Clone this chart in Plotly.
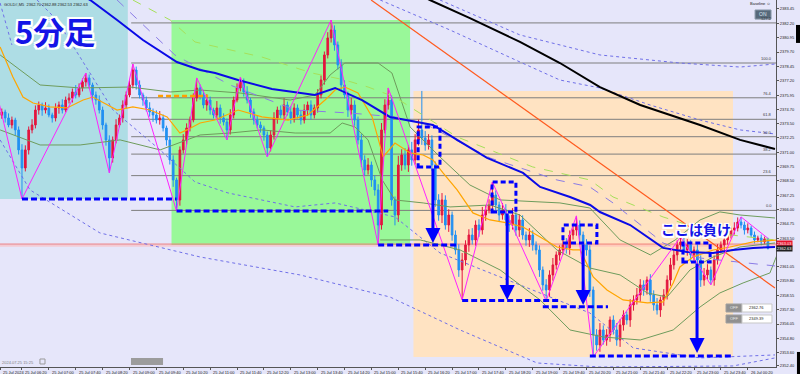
import plotly.graph_objects as go

# ---------------- data ----------------
bar_index = list(range(229))          # 5-minute bars, 25 Jul 05:50 -> 26 Jul 00:50
first_open = 2374.20
closes = [
    2374.49, 2373.97, 2373.36, 2373.79, 2372.93, 2371.19, 2369.62, 2371.19, 2372.93, 2373.36,
    2374.66, 2375.10, 2374.66, 2374.84, 2374.23, 2373.97, 2374.84, 2375.10, 2374.66, 2375.53,
    2375.71, 2376.23, 2375.97, 2376.58, 2377.10, 2377.45, 2376.84, 2375.97, 2375.53, 2374.66,
    2373.36, 2372.06, 2370.49, 2372.06, 2373.36, 2373.97, 2375.10, 2375.97, 2376.84, 2378.14,
    2376.84, 2375.97, 2375.53, 2374.84, 2374.49, 2374.23, 2373.79, 2373.97, 2373.10, 2372.06,
    2370.32, 2368.58, 2366.84, 2371.19, 2372.06, 2373.10, 2373.79, 2375.71, 2376.58, 2375.97,
    2375.10, 2375.53, 2374.66, 2374.23, 2374.84, 2373.97, 2373.62, 2372.93, 2374.23, 2375.53,
    2376.58, 2377.10, 2376.23, 2375.53, 2374.49, 2373.79, 2373.36, 2373.10, 2372.49, 2371.36,
    2372.49, 2373.97, 2374.66, 2374.23, 2375.10, 2374.49, 2373.97, 2374.84, 2374.23, 2373.79,
    2374.66, 2375.10, 2374.23, 2374.84, 2375.97, 2377.27, 2379.45, 2380.93, 2381.62, 2380.32,
    2378.58, 2376.84, 2375.97, 2374.66, 2375.10, 2373.79, 2372.06, 2370.32, 2369.45, 2369.88,
    2368.58, 2367.71, 2364.66, 2372.93, 2375.10, 2375.53, 2366.84, 2365.53, 2369.88, 2370.75,
    2369.88, 2371.19, 2370.32, 2372.06, 2372.93, 2372.23, 2371.62, 2372.06, 2369.88, 2366.84,
    2365.53, 2366.84, 2364.66, 2365.53, 2363.79, 2362.49, 2360.75, 2361.62, 2362.93, 2363.79,
    2363.36, 2364.66, 2364.23, 2365.53, 2365.97, 2366.40, 2367.27, 2366.40, 2365.53, 2365.97,
    2365.10, 2364.66, 2365.53, 2364.23, 2365.10, 2363.79, 2363.36, 2363.79, 2362.93, 2362.49,
    2360.75, 2359.45, 2359.01, 2360.32, 2361.19, 2362.06, 2362.49, 2362.93, 2362.67, 2363.79,
    2364.23, 2364.66, 2363.79, 2362.93, 2362.49, 2359.01, 2355.10, 2354.23, 2355.53, 2354.66,
    2355.10, 2356.40, 2355.53, 2354.66, 2355.97, 2356.84, 2356.40, 2357.71, 2358.14, 2358.58,
    2359.45, 2359.01, 2359.88, 2358.58, 2357.71, 2357.27, 2358.14, 2358.58, 2359.88, 2361.19,
    2362.06, 2362.93, 2363.19, 2362.49, 2362.93, 2362.06, 2362.49, 2361.62, 2359.88, 2360.32,
    2360.75, 2359.88, 2361.62, 2362.49, 2362.93, 2363.36, 2363.79, 2364.23, 2364.40, 2364.92,
    2364.66, 2364.23, 2364.40, 2363.79, 2363.36, 2363.53, 2363.19, 2363.45, 2362.63,
]
wick_hi = [
    0.3, 0.2, 0.4, 0.3, 0.2, 0.3, 0.5, 0.4, 0.3, 0.5,
    0.4, 0.3, 0.2, 0.5, 0.3, 0.2, 0.4, 0.3, 0.5, 0.3,
    0.4, 0.3, 0.6, 0.4, 0.3, 0.43, 0.3, 0.2, 0.3, 0.4,
    0.3, 0.2, 0.4, 0.3, 0.5, 0.3, 0.4, 0.3, 0.4, 0.52,
    0.3, 0.4, 0.2, 0.3, 0.5, 0.3, 0.4, 0.6, 0.3, 0.2,
    0.3, 0.4, 0.2, 0.3, 0.5, 0.4, 0.3, 0.4, 0.87, 0.3,
    0.4, 0.5, 0.3, 0.2, 0.6, 0.3, 0.4, 0.3, 0.5, 0.3,
    0.4, 0.43, 0.3, 0.5, 0.2, 0.3, 0.4, 0.3, 0.2, 0.3,
    0.4, 0.5, 0.3, 0.4, 0.6, 0.3, 0.5, 0.4, 0.3, 0.4,
    0.5, 0.3, 0.4, 0.3, 0.5, 0.4, 0.3, 0.5, 0.87, 0.4,
    0.3, 0.5, 0.4, 0.3, 0.6, 0.4, 0.3, 0.5, 0.4, 0.6,
    0.3, 0.4, 0.5, 0.6, 0.5, 1.05, 0.4, 0.3, 0.8, 0.5,
    0.6, 0.4, 0.7, 0.5, 0.9, 3.39, 0.6, 0.5, 0.4, 0.3,
    0.5, 0.6, 0.4, 0.5, 0.3, 0.4, 0.5, 0.6, 0.4, 0.5,
    0.6, 0.4, 0.5, 0.7, 0.4, 0.5, 1.13, 0.4, 0.3, 0.6,
    0.5, 0.4, 0.6, 0.3, 0.5, 0.4, 0.3, 0.6, 0.4, 0.3,
    0.4, 0.3, 0.5, 0.4, 0.6, 0.3, 0.4, 0.5, 0.6, 0.4,
    0.5, 0.79, 0.4, 0.3, 0.5, 0.4, 0.3, 0.5, 0.6, 0.4,
    0.5, 0.3, 0.4, 0.6, 0.5, 0.4, 0.3, 0.5, 0.4, 0.6,
    0.5, 0.4, 0.3, 0.5, 0.4, 0.6, 0.3, 0.5, 0.4, 0.6,
    0.5, 0.4, 0.43, 0.6, 0.5, 0.4, 0.3, 0.5, 0.4, 0.6,
    0.5, 0.3, 0.4, 0.5, 0.3, 0.4, 0.6, 0.3, 0.5, 0.4,
    0.44, 0.3, 0.4, 0.2, 0.3, 0.2, 0.3, 0.2, 0.1,
]
wick_lo = [
    0.3, 0.4, 0.2, 0.3, 0.5, 0.4, 2.69, 0.3, 0.4, 0.3,
    0.3, 0.4, 0.5, 0.3, 0.2, 0.4, 0.3, 0.5, 0.3, 0.2,
    0.3, 0.4, 0.3, 0.2, 0.3, 0.4, 0.3, 0.5, 0.4, 0.3,
    0.4, 0.5, 1.30, 0.4, 0.3, 0.2, 0.4, 0.3, 0.2, 0.3,
    0.4, 0.3, 0.5, 0.3, 0.4, 0.6, 0.3, 0.4, 0.3, 0.5,
    0.4, 0.6, 0.96, 0.5, 0.3, 0.4, 0.3, 0.2, 0.3, 0.4,
    0.3, 0.5, 0.4, 0.3, 0.4, 0.5, 0.3, 0.87, 0.4, 0.3,
    0.2, 0.3, 0.4, 0.3, 0.5, 0.4, 0.3, 0.4, 0.5, 0.78,
    0.3, 0.4, 0.5, 0.3, 0.4, 0.3, 0.5, 0.4, 0.3, 0.4,
    0.3, 0.5, 0.4, 0.3, 0.4, 0.3, 0.4, 0.3, 0.4, 0.5,
    0.4, 0.5, 0.3, 0.6, 0.4, 0.5, 0.4, 0.6, 0.5, 0.4,
    0.6, 0.5, 1.73, 0.4, 0.3, 0.4, 0.5, 0.9, 0.6, 0.5,
    0.4, 0.6, 0.5, 0.4, 0.5, 0.6, 0.5, 0.4, 0.5, 0.6,
    0.5, 0.7, 0.4, 0.6, 0.5, 0.4, 0.6, 2.61, 0.5, 0.6,
    0.4, 0.5, 0.6, 0.4, 0.5, 0.3, 0.4, 0.5, 0.6, 0.4,
    0.5, 0.6, 0.4, 0.5, 0.6, 0.4, 0.5, 0.6, 0.5, 0.4,
    0.6, 0.5, 0.95, 0.6, 0.5, 0.4, 0.5, 0.4, 0.5, 0.6,
    0.4, 0.5, 0.6, 0.4, 0.5, 0.6, 1.91, 0.5, 0.6, 0.4,
    0.5, 0.6, 0.4, 0.5, 0.6, 0.5, 0.4, 0.6, 0.5, 0.4,
    0.6, 0.5, 0.4, 0.6, 0.5, 0.4, 0.6, 0.5, 0.4, 0.5,
    0.4, 0.5, 0.6, 0.4, 0.5, 0.6, 0.5, 0.4, 0.6, 0.5,
    0.4, 0.43, 0.5, 0.4, 0.3, 0.5, 0.4, 0.3, 0.4, 0.3,
    0.3, 0.4, 0.3, 0.2, 0.3, 0.2, 0.3, 0.2, 0.1,
]

time_tick_idx = [-0.5, 6, 14, 22, 30, 38, 46, 54, 62, 70, 78, 86, 94, 102, 110,
                 118, 126, 134, 142, 150, 158, 166, 174, 182, 190, 198, 206, 214, 222]
time_tick_text = ["25 Jul 2024", "25 Jul 06:20", "25 Jul 07:00", "25 Jul 07:40", "25 Jul 08:20",
                  "25 Jul 09:00", "25 Jul 09:40", "25 Jul 10:20", "25 Jul 11:00", "25 Jul 11:40",
                  "25 Jul 12:20", "25 Jul 13:00", "25 Jul 13:40", "25 Jul 14:20", "25 Jul 15:00",
                  "25 Jul 15:40", "25 Jul 16:20", "25 Jul 17:00", "25 Jul 17:40", "25 Jul 18:20",
                  "25 Jul 19:00", "25 Jul 19:40", "25 Jul 20:20", "25 Jul 21:00", "25 Jul 21:40",
                  "25 Jul 22:20", "25 Jul 23:00", "25 Jul 23:40", "26 Jul 00:20"]
price_ticks = [2383.45, 2382.20, 2380.95, 2379.70, 2378.45, 2377.20, 2375.95, 2374.70, 2373.50,
               2372.25, 2371.00, 2369.75, 2368.50, 2367.25, 2366.00, 2364.75, 2363.50, 2361.05,
               2359.80, 2358.55, 2357.30, 2356.05, 2354.80, 2353.60, 2352.40]

# indicators (bar index, price)
black_ma_x = [118.5, 127.4, 139.3, 154.2, 166.1, 178, 190, 207.8, 219.7, 230.1]
black_ma_y = [2385.5, 2384.23, 2382.66, 2380.58, 2378.75, 2376.66, 2375.10, 2373.36, 2372.06, 2371.27]
blue_ma_x = [24, 26.3, 34.3, 42, 52.1, 59, 63.5, 70.3, 80.4, 93.2, 99.2, 107.2, 115.5, 128.3, 135.5,
             144.4, 155.1, 160.2, 169.1, 175.1, 178, 187, 196.8, 204, 211.7, 217.6, 223.6, 230.1]
blue_ma_y = [2384.6, 2384.23, 2382.49, 2380.75, 2378.84, 2378.14, 2377.88, 2377.27, 2376.49, 2375.97,
             2376.58, 2375.53, 2374.06, 2373.36, 2372.06, 2370.49, 2369.19, 2367.97, 2367.10, 2366.40,
             2365.79, 2364.66, 2362.67, 2362.32, 2362.23, 2362.49, 2362.67, 2362.75]
yg_x = [39, 50.1, 57.5, 77.4, 92.3, 102.1, 109, 117, 121.5, 135.5, 145.3, 158, 175, 181.9, 196.8, 211.7, 230.1]
yg_y = [2384.23, 2382.49, 2380.58, 2379.27, 2377.88, 2377.27, 2376.66, 2375.79, 2374.93, 2372.32,
        2371.19, 2369.71, 2368.58, 2367.10, 2365.36, 2363.97, 2363.36]
pd_x = [34.3, 51.5, 67.9, 87.3, 103.6, 117, 125.4, 145.3, 165.2, 175, 181.9, 196.8, 207.8, 230.1]
pd_y = [2384.23, 2379.45, 2376.84, 2374.66, 2374.40, 2374.06, 2373.53, 2370.49, 2368.58, 2367.97,
        2366.58, 2363.10, 2361.79, 2361.10]
up1_x = [130.4, 154.2, 178, 201.8, 219.7, 230.1]
up1_y = [2384.23, 2381.19, 2379.45, 2378.75, 2378.40, 2378.66]
up2_x = [112.6, 133.4, 154.2, 166.1, 178, 192.9, 207.8, 219.7, 230.1]
up2_y = [2384.23, 2381.62, 2378.84, 2377.27, 2376.58, 2375.10, 2373.79, 2372.93, 2372.58]
up3_x = [-0.5, 0.95, 3.0]
up3_y = [2383.97, 2382.49, 2380.32]
lo1_x = [-0.5, 8.4, 29.2, 59, 88.7, 115.5, 136.4, 159.3, 178, 217.6, 230.1]
lo1_y = [2372.06, 2367.71, 2363.97, 2361.88, 2360.32, 2358.40, 2355.53, 2352.66, 2352.31, 2352.40, 2353.10]
lo2_x = [10.5, 16.4, 33.1, 47.1, 57.5, 67.3, 87.3, 99.2, 117, 130.4, 145.3, 160.2, 175, 187.9, 207.8, 230.1]
lo2_y = [2384.23, 2382.49, 2374.66, 2371.19, 2368.40, 2367.45, 2366.23, 2366.58, 2365.36, 2362.23,
         2360.49, 2358.75, 2357.01, 2353.97, 2353.10, 2353.36]
gup_x = [-0.5, 11.4, 23.3, 38.2, 50.1, 59, 70.9, 85.8, 93.2, 97.7, 102.1, 112, 116.1, 121.5, 130.4,
         139.3, 148.3, 166.1, 175, 184, 193, 200.4, 207.8, 213.7, 219.7, 230.1]
gup_y = [2379.45, 2376.84, 2376.58, 2376.66, 2376.23, 2376.40, 2376.14, 2375.53, 2375.97, 2377.71,
         2378.75, 2378.75, 2377.88, 2373.19, 2370.58, 2368.14, 2366.84, 2366.58, 2366.14, 2363.36,
         2362.06, 2363.36, 2365.10, 2365.80, 2365.53, 2365.27]
gmid_x = [-0.5, 11.4, 23.3, 35.2, 47.1, 59, 67.9, 77.4, 87.3, 97.7, 101.3, 105.1, 109, 113.2, 117,
          125.4, 133.4, 145.3, 154.2, 165.2, 175, 184, 192.1, 198, 204.8, 211.7, 219.7, 230.1]
gmid_y = [2372.93, 2371.62, 2371.62, 2372.06, 2371.19, 2372.49, 2372.66, 2372.93, 2372.66, 2372.66,
          2373.53, 2373.19, 2372.06, 2368.58, 2366.84, 2366.58, 2366.23, 2366.40, 2365.53, 2362.49,
          2360.92, 2360.32, 2358.75, 2358.40, 2360.75, 2361.88, 2362.75, 2363.10]
glow_x = [112.6, 124.5, 136.4, 148.3, 160.2, 169.1, 179, 190, 199.8, 207.8, 213.7, 220.6, 228.6, 230.7]
glow_y = [2363.36, 2363.36, 2362.49, 2360.75, 2358.14, 2355.53, 2354.92, 2354.66, 2355.53, 2357.53,
          2358.75, 2359.62, 2360.49, 2362.06]
orange_x = [-0.5, 3.3, 6.3, 9.3, 14.3, 19.4, 24.2, 27.1, 34.3, 39, 44.1, 49.2, 53, 55.1, 59, 63.4,
            70.3, 77.4, 85.2, 91.1, 96.2, 99.2, 102.1, 106, 110.2, 113.5, 117, 121.5, 125.4, 128.3,
            131.3, 135.5, 140.2, 145.3, 150.4, 155.1, 160.2, 165.2, 170, 172.1, 176, 180.1, 184.9,
            192.1, 196.8, 199.8, 201.8, 205.7, 211.7, 216.7, 223.6, 230.7]
orange_y = [2380.14, 2377.53, 2375.79, 2375.27, 2374.93, 2374.84, 2375.53, 2375.79, 2374.66, 2374.93,
            2374.66, 2374.06, 2372.66, 2372.93, 2373.53, 2373.79, 2374.66, 2374.06, 2373.79, 2374.23,
            2375.53, 2376.40, 2376.66, 2376.14, 2374.06, 2370.58, 2371.79, 2370.93, 2370.75, 2370.32,
            2369.19, 2367.71, 2365.71, 2365.10, 2364.84, 2364.49, 2363.62, 2362.75, 2362.49, 2362.49,
            2360.14, 2359.01, 2358.14, 2357.88, 2357.97, 2359.62, 2361.01, 2361.88, 2362.49, 2362.75,
            2363.19, 2363.36]
trend_x = [109.9, 230.1]
trend_y = [2384.23, 2359.19]
zigzag_x = [-1, 6, 25, 32, 39, 52, 58, 67, 71, 79, 98, 112, 115, 137, 146, 162, 171, 176, 202, 211, 220, 228]
zigzag_y = [2375.50, 2366.93, 2377.88, 2369.19, 2378.66, 2365.88, 2377.45, 2372.06, 2377.53, 2370.58,
            2382.49, 2362.93, 2376.58, 2358.14, 2368.40, 2358.06, 2365.45, 2353.19, 2363.62, 2359.45,
            2365.36, 2363.50]

# fibonacci
fib_low, fib_high = 2365.93, 2378.75
fib_ratios = [0.0, 23.6, 38.2, 50.0, 61.8, 76.4, 100.0, 127.2]
fib_start = 38.5

# zones
zone_x0 = [-2, 50.5, 122.5]
zone_x1 = [37.5, 121.5, 217.6]
zone_lo = [2366.93, 2362.93, 2353.19]
zone_hi = [2386.0, 2382.49, 2376.32]
zone_col = ["#AEDDE5", "#99F899", "#FFE3C2"]

# hand-drawn support lines / boxes / arrows
sup_price = [2366.93, 2365.88, 2362.93, 2358.10, 2357.55, 2353.27]
sup_x0 = [6, 52, 112, 137, 161, 175]
sup_x1 = [52, 115, 135.5, 166, 180.4, 217.6]
box_x0 = [123.9, 145.9, 167.0, 202.7]
box_x1 = [130.4, 153.0, 177.1, 210.8]
box_lo = [2369.71, 2365.80, 2363.10, 2361.45]
box_hi = [2373.19, 2368.40, 2364.66, 2363.10]
arr_x = [128.3, 150.4, 173.0, 206.9]
arr_from = [2369.71, 2365.80, 2363.10, 2361.45]
arr_to = [2363.10, 2358.14, 2357.71, 2353.53]
orange_level_price, orange_level_x0, orange_level_x1 = 2375.88, 46.5, 61.4
price_lines = [2363.00, 2362.84]

X_RANGE = [-0.54, 230.4]
Y_RANGE = [2352.31, 2384.23]

# ---------------- figure ----------------
opens = [first_open] + closes[:-1]
highs = [max(o, c) + w for o, c, w in zip(opens, closes, wick_hi)]
lows = [min(o, c) - w for o, c, w in zip(opens, closes, wick_lo)]

fig = go.Figure()

def add_line(xs, ys, color, width=1, dash=None):
    fig.add_trace(go.Scatter(x=xs, y=ys, mode="lines", hoverinfo="skip",
                             line=dict(color=color, width=width, dash=dash)))

# dotted outer bands & bands behind candles
add_line(up1_x, up1_y, "#6F6FE8", 1, "dot")
add_line(up2_x, up2_y, "#6F6FE8", 1, "dot")
add_line(up3_x, up3_y, "#6F6FE8", 1, "dot")
add_line(lo1_x, lo1_y, "#6F6FE8", 1, "dot")
add_line(lo2_x, lo2_y, "#6F6FE8", 1, "dot")
add_line(gup_x, gup_y, "#6E9C5C", 1)
add_line(gmid_x, gmid_y, "#6E9C5C", 1)
add_line(glow_x, glow_y, "#6E9C5C", 1)

fig.add_trace(go.Candlestick(
    x=bar_index, open=opens, high=highs, low=lows, close=closes,
    increasing=dict(line=dict(color="#E3163E", width=1), fillcolor="#E3163E"),
    decreasing=dict(line=dict(color="#2190F2", width=1), fillcolor="#2190F2"),
    whiskerwidth=0, hoverinfo="skip"))

add_line(yg_x, yg_y, "#A6E05A", 1, "dash")
add_line(pd_x, pd_y, "#8A7BE6", 1, "dash")
add_line(orange_x, orange_y, "#FFA500", 1.2)
add_line(trend_x, trend_y, "#FF5A1E", 1.2)
add_line(black_ma_x, black_ma_y, "#000000", 2)
add_line(blue_ma_x, blue_ma_y, "#0A0AE6", 2)
add_line(zigzag_x, zigzag_y, "#FF22FF", 1)

shapes = []
for x0, x1, lo, hi, col in zip(zone_x0, zone_x1, zone_lo, zone_hi, zone_col):
    shapes.append(dict(type="rect", xref="x", yref="y", x0=x0, x1=x1, y0=lo, y1=hi,
                       fillcolor=col, line=dict(width=0), layer="below"))
for r in fib_ratios:
    lvl = fib_low + r / 100.0 * (fib_high - fib_low)
    shapes.append(dict(type="line", xref="x", yref="y", x0=fib_start, x1=232, y0=lvl, y1=lvl,
                       line=dict(color="#7E7E7E", width=1), layer="below"))
for p, col in zip(price_lines, ["#F07878", "#FFB8B8"]):
    shapes.append(dict(type="line", xref="x", yref="y", x0=-2, x1=232, y0=p, y1=p,
                       line=dict(color=col, width=1), layer="below"))
shapes.append(dict(type="line", xref="x", yref="y", x0=orange_level_x0, x1=orange_level_x1,
                   y0=orange_level_price, y1=orange_level_price,
                   line=dict(color="#FFA000", width=2.5, dash="5px,3px")))
for p, x0, x1 in zip(sup_price, sup_x0, sup_x1):
    shapes.append(dict(type="line", xref="x", yref="y", x0=x0, x1=x1, y0=p, y1=p,
                       line=dict(color="#0000FF", width=3, dash="6px,3px")))
for x0, x1, lo, hi in zip(box_x0, box_x1, box_lo, box_hi):
    shapes.append(dict(type="rect", xref="x", yref="y", x0=x0, x1=x1, y0=lo, y1=hi,
                       line=dict(color="#0000FF", width=3, dash="5px,3px"),
                       fillcolor="rgba(0,0,0,0)"))

# UI widgets (paper coords)
def prect(x0, x1, y0, y1, fill, line="rgba(0,0,0,0)"):
    shapes.append(dict(type="rect", xref="paper", yref="paper", x0=x0, x1=x1, y0=y0, y1=y1,
                       fillcolor=fill, line=dict(color=line, width=1)))

prect(0.973, 0.9936, 0.948, 0.9728, "#56697A", "#8A9AAA")            # ON button
prect(0.9356, 0.9562, 0.1499, 0.1717, "#909090", "#A0A0A0")          # OFF row 1
prect(0.9562, 0.9948, 0.1499, 0.1717, "#FFFFFF", "#C8C8C8")
prect(0.9356, 0.9562, 0.1199, 0.1417, "#909090", "#A0A0A0")          # OFF row 2
prect(0.9562, 0.9948, 0.1199, 0.1417, "#FFFFFF", "#C8C8C8")
prect(0.0515, 0.058, 0.0082, 0.0218, "#E6E6FA", "#9A9A9A")
prect(0.1688, 0.2101, 0.0054, 0.0245, "#9C9C9C")
prect(1.0258, 1.04, 0.883, 0.932, "#000000")
prect(1.027, 1.04, -0.02, 0.041, "#000000")

annotations = []
for t, txt in zip(time_tick_idx, time_tick_text):
    annotations.append(dict(x=t, xref="x", y=0, yref="paper", yanchor="top", xanchor="left",
                            text=txt, showarrow=False, yshift=-1, xshift=1,
                            font=dict(size=4, color="#222", family="Liberation Sans")))
for r in fib_ratios:
    lvl = fib_low + r / 100.0 * (fib_high - fib_low)
    annotations.append(dict(x=0.998, xref="paper", y=lvl, yref="y", xanchor="right", yanchor="bottom",
                            text=f"{r:.1f}", showarrow=False,
                            font=dict(size=4, color="#3A3A3A", family="Liberation Sans")))
for x, a, b in zip(arr_x, arr_from, arr_to):
    annotations.append(dict(x=x, y=b, ax=x, ay=a, xref="x", yref="y", axref="x", ayref="y",
                            text="", showarrow=True, arrowhead=2, arrowsize=1, arrowwidth=3,
                            arrowcolor="#0000FF", standoff=0))

outline = ("2px 2px 0 #fff, -2px -2px 0 #fff, 2px -2px 0 #fff, -2px 2px 0 #fff, "
           "0 2px 0 #fff, 2px 0 0 #fff, 0 -2px 0 #fff, -2px 0 0 #fff")
annotations.append(dict(x=0.0709, y=0.918, xref="paper", yref="paper", xanchor="center",
                        yanchor="middle", text="5分足", showarrow=False,
                        font=dict(family="Noto Sans CJK JP", size=31, color="#1414E6",
                                  weight="bold", shadow=outline)))
annotations.append(dict(x=0.897, y=0.376, xref="paper", yref="paper", xanchor="center",
                        yanchor="middle", text="ここは負け", showarrow=False,
                        font=dict(family="Noto Sans CJK JP", size=14, color="#1414E6",
                                  weight="bold", shadow=outline.replace("2px", "1.5px"))))
small = dict(family="Liberation Sans", size=4, color="#222")
annotations.append(dict(x=0.0026, y=0.989, xref="paper", yref="paper", xanchor="left",
                        yanchor="middle",
                        text="GOLD#,M5  2362.70 2362.88 2362.53 2362.63", showarrow=False, font=small))
annotations.append(dict(x=0.996, y=0.99, xref="paper", yref="paper", xanchor="right",
                        yanchor="middle", text="Baseline ☺", showarrow=False, font=small))
annotations.append(dict(x=0.9833, y=0.9605, xref="paper", yref="paper", xanchor="center",
                        yanchor="middle", text="ON", showarrow=False,
                        font=dict(family="Liberation Sans", size=5, color="#D8E4F0")))
for yy, val in [(0.1608, "2362.76"), (0.1308, "2349.39")]:
    annotations.append(dict(x=0.9459, y=yy, xref="paper", yref="paper", xanchor="center",
                            yanchor="middle", text="OFF", showarrow=False,
                            font=dict(family="Liberation Sans", size=4, color="#E8E8E8")))
    annotations.append(dict(x=0.9755, y=yy, xref="paper", yref="paper", xanchor="center",
                            yanchor="middle", text=val, showarrow=False,
                            font=dict(family="Liberation Sans", size=4, color="#222")))
annotations.append(dict(x=0.0, y=0.0136, xref="paper", yref="paper", xanchor="left",
                        yanchor="middle", text="2024.07.25 15:25", showarrow=False,
                        font=dict(family="Liberation Sans", size=4, color="#808080")))
annotations.append(dict(x=1.0, xref="paper", y=2363.05, yref="y", xanchor="left", yanchor="middle",
                        text="2363.03", showarrow=False, bgcolor="#E8102C", borderpad=0,
                        font=dict(family="Liberation Sans", size=4, color="#FFFFFF")))
annotations.append(dict(x=1.0, xref="paper", y=2362.63, yref="y", xanchor="left", yanchor="middle",
                        text="2362.63", showarrow=False, bgcolor="#202020", borderpad=0,
                        font=dict(family="Liberation Sans", size=4, color="#FFFFFF")))

fig.update_layout(
    width=800, height=374,
    margin=dict(l=0, r=24, t=0, b=7, pad=0),
    paper_bgcolor="#E6E6FA", plot_bgcolor="#E6E6FA",
    showlegend=False,
    shapes=shapes, annotations=annotations,
    xaxis=dict(range=X_RANGE, rangeslider=dict(visible=False), showgrid=False, zeroline=False,
               showline=True, linecolor="#555", linewidth=1, ticks="outside", ticklen=2,
               tickcolor="#555", tickvals=time_tick_idx, showticklabels=False, automargin=False,
               fixedrange=True),
    yaxis=dict(range=Y_RANGE, side="right", showgrid=False, zeroline=False, showline=True,
               linecolor="#555", linewidth=1, ticks="outside", ticklen=2, tickcolor="#555",
               tickvals=price_ticks, ticktext=[f"{v:.2f}" for v in price_ticks],
               tickfont=dict(size=4, color="#222", family="Liberation Sans"),
               automargin=False, fixedrange=True),
)

fig.write_html("out.html")
